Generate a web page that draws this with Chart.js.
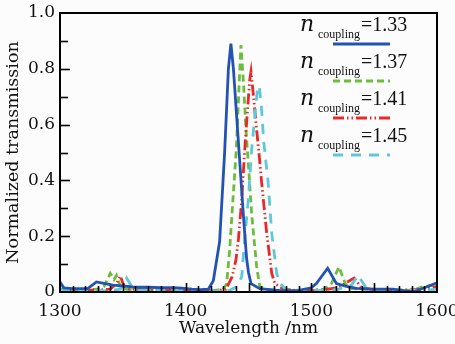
<!DOCTYPE html>
<html lang="en">
<head>
  <meta charset="UTF-8">
  <title>Normalized transmission</title>
  <script src="https://cdn.jsdelivr.net/npm/chart.js"></script>
  <style>
    html, body { margin: 0; padding: 0; background: #fcfcfc; }
    #wrap { width: 455px; height: 344px; position: relative; }
  </style>
</head>
<body>
  <div id="wrap"><canvas id="chart"></canvas></div>

  <script>
    // series: wavelength (nm) and normalized transmission
    const wl133 = [1300, 1303, 1310, 1322, 1329, 1336, 1342, 1350, 1358, 1370, 1380, 1390, 1397, 1405, 1412, 1418, 1422, 1427, 1431, 1434, 1436, 1438, 1443, 1446, 1448.5, 1450, 1452, 1459, 1475, 1490, 1500, 1504, 1513, 1520, 1528, 1536, 1550, 1565, 1581, 1590, 1600];
    const t133  = [0.036, 0.015, 0.012, 0.012, 0.036, 0.03, 0.025, 0.022, 0.018, 0.017, 0.016, 0.016, 0.014, 0.01, 0.008, 0.01, 0.04, 0.18, 0.5, 0.8, 0.89, 0.8, 0.47, 0.27, 0.12, 0.07, 0.03, 0.012, 0.005, 0.006, 0.015, 0.03, 0.085, 0.03, 0.02, 0.013, 0.01, 0.01, 0.0, 0.015, 0.033];

    const wl137 = [1300, 1310, 1320, 1330, 1335, 1340, 1343, 1345, 1348, 1352, 1360, 1380, 1400, 1420, 1430, 1432.6, 1435, 1437.6, 1440.3, 1442.7, 1444, 1446, 1448, 1450, 1452.5, 1456.5, 1459, 1465, 1480, 1500, 1510, 1516, 1522, 1527, 1531, 1540, 1560, 1580, 1590, 1600];
    const t137  = [0.01, 0.008, 0.008, 0.01, 0.02, 0.067, 0.045, 0.06, 0.02, 0.01, 0.008, 0.006, 0.005, 0.004, 0.01, 0.03, 0.15, 0.33, 0.51, 0.76, 0.885, 0.75, 0.58, 0.45, 0.28, 0.09, 0.02, 0.008, 0.004, 0.005, 0.01, 0.03, 0.09, 0.03, 0.013, 0.01, 0.008, 0.006, 0.02, 0.025];

    const wl141 = [1300, 1310, 1320, 1330, 1340, 1345, 1348, 1351, 1355, 1370, 1390, 1410, 1425, 1432, 1437, 1440, 1442, 1444.6, 1447, 1449, 1451, 1452, 1454, 1456.5, 1458.6, 1460.5, 1464.5, 1468.5, 1471, 1478, 1490, 1510, 1520, 1525, 1529, 1534, 1540, 1550, 1570, 1590, 1600];
    const t141  = [0.005, 0.006, 0.005, 0.008, 0.01, 0.03, 0.057, 0.02, 0.01, 0.008, 0.006, 0.005, 0.005, 0.01, 0.055, 0.115, 0.19, 0.33, 0.51, 0.64, 0.76, 0.79, 0.7, 0.58, 0.485, 0.39, 0.21, 0.067, 0.03, 0.01, 0.005, 0.008, 0.015, 0.025, 0.037, 0.05, 0.015, 0.008, 0.006, 0.01, 0.02];

    const wl145 = [1300, 1320, 1340, 1348, 1353, 1357, 1362, 1380, 1400, 1420, 1435, 1441, 1444.6, 1447, 1449.8, 1452.5, 1455, 1457, 1458.6, 1460.5, 1462, 1465.7, 1468.5, 1472.4, 1475, 1480, 1500, 1520, 1532, 1537, 1543, 1550, 1570, 1590, 1600];
    const t145  = [0.006, 0.005, 0.005, 0.01, 0.05, 0.02, 0.006, 0.005, 0.004, 0.004, 0.006, 0.02, 0.055, 0.19, 0.33, 0.51, 0.63, 0.72, 0.74, 0.65, 0.545, 0.39, 0.21, 0.067, 0.03, 0.008, 0.004, 0.008, 0.025, 0.06, 0.02, 0.008, 0.005, 0.006, 0.01];

    const nValues = ["1.33", "1.37", "1.41", "1.45"];
    const xTicks = [1300, 1400, 1500, 1600];
    const yTicks = [0, 0.2, 0.4, 0.6, 0.8, 1.0];

    const SERIF = "'DejaVu Serif', serif";
    const LSERIF = "'Liberation Serif', serif";

    function pts(xs, ys) {
      return xs.map((x, i) => ({ x: x, y: ys[i] }));
    }

    const styles = [
      { color: "#2252b2", dash: [] },
      { color: "#6cbd3c", dash: [7, 4] },
      { color: "#e8282a", dash: [11, 3, 1.5, 3, 1.5, 3] },
      { color: "#5ec8db", dash: [10, 8] }
    ];

    const datasets = [pts(wl133, t133), pts(wl137, t137), pts(wl141, t141), pts(wl145, t145)].map((d, i) => ({
      label: "n_coupling=" + nValues[i],
      data: d,
      borderColor: styles[i].color,
      borderDash: styles[i].dash,
      borderWidth: 2.8,
      pointRadius: 0,
      tension: 0,
      fill: false,
      order: [0, 3, 2, 1][i]
    }));

    // frame, inward ticks and legend with subscript
    const decor = {
      id: "decor",
      afterDraw(chart) {
        const ctx = chart.ctx;
        const a = chart.chartArea;
        const xs = chart.scales.x, ys = chart.scales.y;
        ctx.save();
        ctx.strokeStyle = "#000";
        ctx.lineWidth = 1.6;
        for (let v = 1310; v < 1600; v += 10) {
          const px = Math.round(xs.getPixelForValue(v)) + 0.5;
          const len = v % 50 === 0 ? 9 : 6;
          ctx.beginPath();
          ctx.moveTo(px, a.bottom);
          ctx.lineTo(px, a.bottom - len);
          ctx.stroke();
        }
        for (let k = 1; k < 10; k++) {
          const py = Math.round(ys.getPixelForValue(k / 10)) + 0.5;
          ctx.beginPath();
          ctx.moveTo(a.left, py);
          ctx.lineTo(a.left + (k % 2 === 0 ? 10 : 8), py);
          ctx.stroke();
        }
        ctx.lineWidth = 2;
        ctx.strokeRect(a.left, a.top, a.right - a.left, a.bottom - a.top);

        // legend
        ctx.fillStyle = "#111";
        ctx.textBaseline = "alphabetic";
        chart.data.datasets.forEach((ds, i) => {
          const base = a.top + 18 + 37 * i;
          ctx.font = "italic 22px " + SERIF;
          ctx.fillText("n", a.left + 240, base);
          ctx.font = "12px " + LSERIF;
          ctx.fillText("coupling", a.left + 258, base + 7);
          ctx.font = "20px " + LSERIF;
          ctx.fillText("=" + nValues[i], a.left + 301, base);

          const ly = a.top + 31 + 37 * i;
          ctx.strokeStyle = ds.borderColor;
          ctx.lineWidth = 2.8;
          ctx.setLineDash(ds.borderDash);
          ctx.beginPath();
          ctx.moveTo(a.left + 273, ly);
          ctx.lineTo(a.left + 330, ly);
          ctx.stroke();
          ctx.setLineDash([]);
        });
        ctx.restore();
      }
    };

    new Chart(document.getElementById("chart"), {
      type: "line",
      data: { datasets: datasets },
      plugins: [decor],
      options: {
        responsive: true,
        maintainAspectRatio: false,
        animation: false,
        layout: { autoPadding: false, padding: { top: 13, right: 18, left: 0, bottom: 0 } },
        plugins: { legend: { display: false }, tooltip: { enabled: false } },
        scales: {
          x: {
            type: "linear",
            min: 1300,
            max: 1600,
            afterBuildTicks: s => { s.ticks = xTicks.map(v => ({ value: v })); },
            afterFit: s => { s.height = 52; s.paddingLeft = 0; s.paddingRight = 0; },
            grid: { display: false, drawTicks: false },
            border: { display: false },
            ticks: { color: "#111", padding: 9, maxRotation: 0, font: { family: SERIF, size: 17 }, callback: v => String(v) },
            title: { display: true, text: "Wavelength /nm", color: "#111", padding: { top: 0, bottom: 5 }, font: { family: SERIF, size: 17 } }
          },
          y: {
            min: 0,
            max: 1,
            afterBuildTicks: s => { s.ticks = yTicks.map(v => ({ value: v })); },
            afterFit: s => { s.width = 60; s.paddingTop = 0; s.paddingBottom = 0; },
            grid: { display: false, drawTicks: false },
            border: { display: false },
            ticks: {
              color: "#111",
              padding: 5,
              font: { family: SERIF, size: 17 },
              callback: v => (v === 0 ? "0" : v.toFixed(1))
            },
            title: { display: true, text: "Normalized transmission", color: "#111", padding: { top: 3, bottom: 0 }, font: { family: SERIF, size: 17.5 } }
          }
        }
      }
    });
  </script>
</body>
</html>
